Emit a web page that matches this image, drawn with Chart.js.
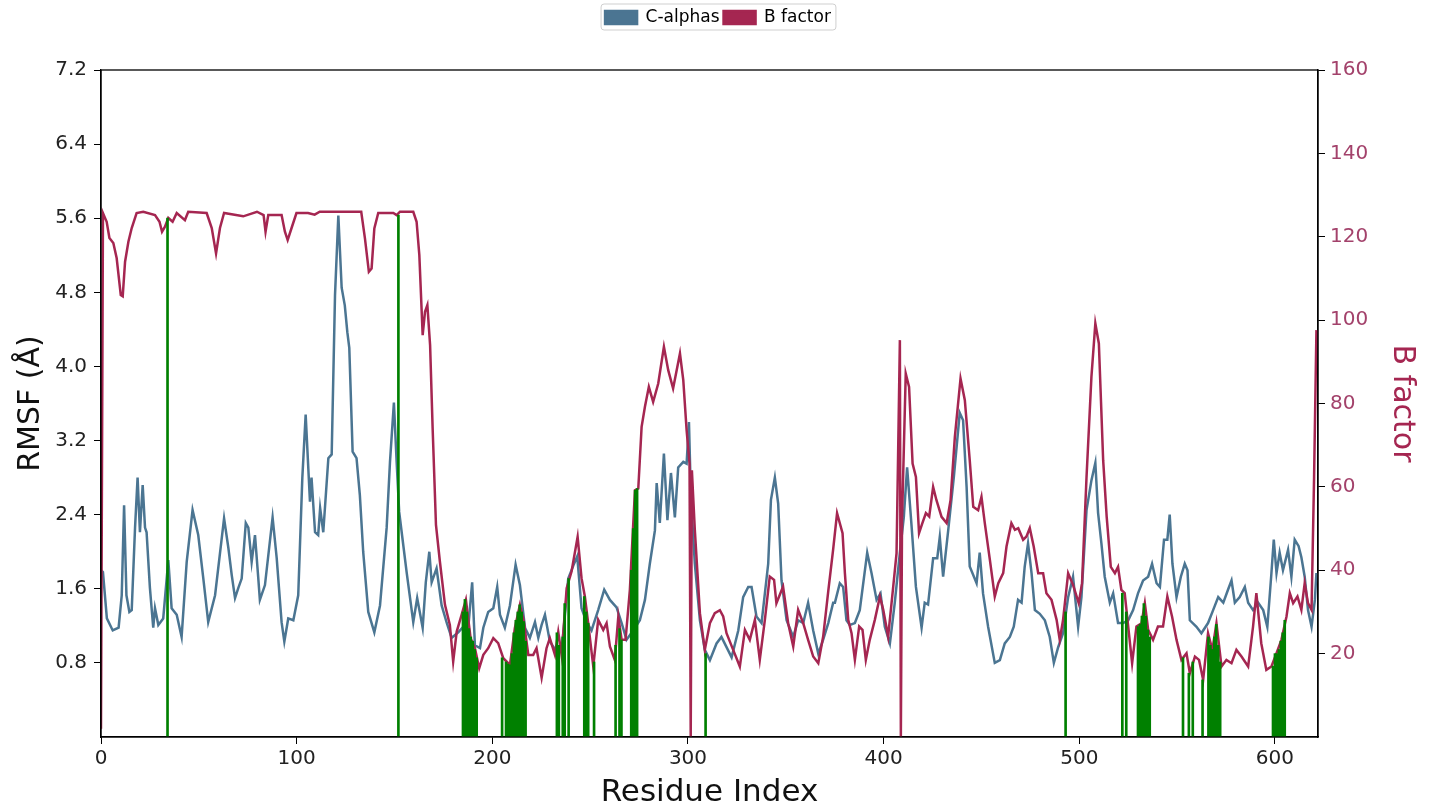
<!DOCTYPE html>
<html>
<head>
<meta charset="utf-8">
<title>RMSF vs B factor</title>
<script src="https://cdn.jsdelivr.net/npm/chart.js@4.4.1/dist/chart.umd.min.js"></script>
<style>
    html, body { margin: 0; padding: 0; background: #fff; }
    #wrap { width: 1436px; height: 812px; position: relative; }
</style>
</head>
<body>
<div id="wrap"><canvas id="rmsfChart"></canvas></div>
<script>
// C-alpha RMSF per residue: [residue, RMSF in Angstrom]
const cAlphaPoints = [
    [0,1.80],[1,1.78],[3,1.28],[6,1.15],[9,1.18],[10.6,1.53],[11.8,2.50],[13,1.53],[14.5,1.35],[15.7,1.37],
    [17.4,2.26],[18.7,2.80],[19.9,2.21],[21.3,2.72],[22.5,2.26],[23.3,2.21],[25,1.61],[26.7,1.18],[27.6,1.39],
    [29.3,1.21],[31.8,1.28],[34.4,1.91],[36.1,1.39],[38.7,1.32],[41.2,1.08],[43.8,1.89],[46.8,2.45],[49.7,2.18],
    [52.3,1.71],[54.8,1.24],[58.3,1.53],[62.9,2.36],[65.1,2.04],[66.8,1.75],[68.5,1.50],[70.2,1.61],[71.9,1.71],
    [74,2.31],[75.3,2.26],[77,1.89],[78.7,2.18],[80.4,1.71],[81.2,1.48],[83.8,1.64],[87.7,2.37],[89.8,1.93],
    [92.3,1.24],[93.7,1.03],[95.7,1.28],[98.3,1.26],[100.8,1.53],[102.9,2.80],[104.6,3.48],[106.8,2.54],
    [107.6,2.80],[109.4,2.21],[111,2.18],[112,2.47],[113.6,2.21],[116.2,3.01],[117.9,3.05],[119.6,4.77],
    [121.3,5.63],[123,4.85],[124.6,4.66],[125.9,4.37],[126.9,4.20],[128.6,3.08],[130.6,3.01],[132.3,2.61],
    [134,2.00],[136.6,1.35],[139.7,1.13],[142.6,1.42],[146,2.26],[147.7,2.97],[149.7,3.61],[151.1,2.97],
    [152.4,2.43],[154.5,2.07],[156.2,1.78],[159.6,1.24],[161.6,1.50],[164.4,1.18],[166,1.67],[167.8,2.00],
    [169,1.67],[171.5,1.82],[174.1,1.42],[176.6,1.24],[179.2,1.07],[182.6,1.13],[186,1.21],[187.7,1.18],
    [189.7,1.67],[191.1,0.99],[193.7,0.96],[195.4,1.18],[197.9,1.35],[200.5,1.39],[202.5,1.62],[203.9,1.32],
    [206.4,1.18],[209,1.42],[211.9,1.86],[214.1,1.64],[216.7,1.18],[219.2,1.07],[221.8,1.24],[223.5,1.07],
    [225.2,1.21],[226.9,1.32],[229.4,1.03],[232.9,0.92],[235.4,0.92],[238.8,1.71],[241.4,1.85],[243.4,1.95],
    [245.6,1.39],[248.2,1.24],[250.7,1.15],[254.1,1.37],[257.2,1.59],[260.1,1.48],[263.5,1.40],[266.1,1.23],
    [268.6,1.05],[272,1.15],[275.4,1.26],[278,1.48],[280.5,1.87],[283.1,2.23],[284,2.74],[285.6,2.31],
    [287.7,3.06],[289.5,2.34],[291.3,2.85],[293.3,2.37],[295,2.91],[297.6,2.97],[299.3,2.95],[300.5,3.40],
    [301.5,2.59],[303.5,1.87],[306.1,1.26],[308.6,0.94],[311.2,0.83],[314.6,1.01],[317.1,1.08],[319.7,0.97],
    [322.3,0.86],[325.7,1.15],[328.2,1.51],[330.8,1.62],[332.5,1.62],[335,1.30],[337.6,1.23],[341,1.87],
    [342.4,2.56],[344.4,2.80],[346.1,2.52],[347.8,1.69],[350.4,1.26],[353.8,1.08],[356.3,1.26],[358.9,1.23],
    [361.4,1.45],[364,1.15],[366.6,0.90],[369.1,1.05],[371.7,1.23],[374.2,1.45],[375.1,1.45],[377.6,1.66],
    [379.3,1.62],[381,1.26],[382.7,1.21],[385.3,1.23],[387.8,1.37],[391.6,1.99],[393.8,1.77],[396.4,1.48],
    [398.4,1.55],[400.6,1.19],[403.2,1.01],[405.7,1.45],[408.3,1.99],[410.3,2.37],[412,2.91],[414.3,2.27],
    [416.5,1.62],[419.4,1.18],[421,1.45],[422.7,1.43],[425.3,1.93],[427.4,1.93],[428.7,2.16],[430.4,1.73],
    [433,2.23],[435.9,2.81],[438.9,3.50],[440.6,3.42],[442.4,2.70],[444,1.84],[447.5,1.66],[449.1,1.99],
    [450.8,1.55],[453.4,1.19],[456.8,0.80],[459.4,0.83],[461.9,1.01],[464.5,1.08],[466.5,1.19],[468.7,1.48],
    [470.5,1.45],[472.1,1.84],[473.8,2.09],[475.6,1.77],[477.3,1.37],[479.8,1.33],[482.4,1.26],[484.9,1.08],
    [487,0.80],[489.2,0.97],[491.7,1.12],[494.3,1.51],[496.8,1.73],[499.4,1.19],[501.1,1.51],[503.7,2.45],
    [506.2,2.77],[508.2,2.96],[509.6,2.42],[511.3,2.09],[513,1.73],[515.6,1.45],[517.3,1.55],[519.8,1.23],
    [522.4,1.23],[525,1.26],[527.5,1.37],[530,1.55],[532.6,1.69],[535.2,1.73],[537.2,1.87],[539.5,1.66],
    [541.2,1.62],[543.3,2.13],[545,2.13],[546.2,2.40],[547.6,1.87],[549.7,1.51],[551.9,1.73],[553.9,1.87],
    [555.3,1.80],[556.5,1.26],[559.9,1.19],[562.4,1.12],[565.8,1.23],[568.4,1.37],[571,1.51],[573.6,1.45],
    [576,1.59],[577.8,1.69],[579.5,1.45],[582,1.51],[584.6,1.62],[586.3,1.45],[588.8,1.37],[591.4,1.45],
    [594,1.37],[596.1,1.19],[598.2,1.77],[599.4,2.13],[600.8,1.77],[602.4,1.99],[604.1,1.80],[606.7,2.02],
    [608.4,1.73],[610.1,2.13],[612.1,2.06],[613.5,1.94],[615.2,1.73],[616.9,1.37],[618.7,1.19],[620.4,1.48],
    [621.2,1.77]
];

// B factor per residue: [residue, B factor]
const bFactorPoints = [
    [0,2],[1,125.7],[2.9,123.6],[4.3,119.7],[6.3,118.5],[8,114.9],[10.1,106],[11.1,105.7],[12.3,114],
    [14,118.8],[15.7,122.1],[18.2,125.7],[21.6,126],[27.6,125.2],[29.9,123.6],[31.2,121.2],[32.7,122.4],
    [34.4,124.5],[36.6,123.6],[38.7,125.7],[42.9,124],[44.6,126],[54,125.7],[56.6,122.1],[58.8,116],
    [60.8,122.1],[62.9,125.7],[72.7,124.9],[79.7,126],[83.1,125.2],[84.1,121.2],[85.5,125.2],[92.3,125.2],
    [94,121.2],[95.4,119.2],[97.4,122.1],[99.9,125.7],[105.8,125.7],[109.2,125.3],[111.8,126],[133,126],
    [134.9,119.6],[136.9,111.6],[138.3,112.4],[139.7,122],[141.7,125.7],[149.4,125.7],[151.1,125.2],
    [152.8,126],[159.6,126],[161.3,123.6],[162.7,115.6],[164.4,96.4],[165.6,102],[166.8,103.6],[168.2,94],
    [169.5,74],[171.2,50.9],[173.2,42.1],[175.8,31.7],[178.3,26.9],[180,18.1],[181.8,25.3],[184.3,29.3],
    [186.5,32.9],[188.9,23.7],[191.1,21.3],[193.3,16.5],[195.4,19.7],[197.9,21.3],[200.5,23.7],[203,22.5],
    [205.6,18.9],[209,17.3],[211.5,26.1],[214.1,31.7],[216.1,27.7],[218.4,19.7],[220.9,19.7],[222.6,21.3],
    [225.2,14.2],[227.7,21.3],[229.4,23.7],[232,19.7],[233.7,25.2],[235.4,19.7],[238,35.7],[240.5,39.7],
    [243.6,48],[245.6,38.1],[247.3,33.7],[249,27.3],[251.6,16.9],[254.1,28.1],[256.7,25.7],[258.4,27.3],
    [260.1,21.7],[262.6,18.5],[264.4,28.9],[266.1,23.3],[268.1,23.3],[270.3,35.3],[272.9,59.2],[274.6,59.6],
    [276.3,74.4],[278,79.2],[280,84],[282.2,80.4],[284.8,84.8],[287.7,93.6],[289.9,88],[292.4,83.6],
    [295.9,92],[297.6,85.6],[299.3,73.6],[300.8,65.6],[301.4,0],[302,64],[303.5,49.7],[306.1,29.7],
    [308.6,20.9],[311.2,27.3],[313.7,29.7],[316.3,30.4],[318,28.9],[319.7,24.9],[323.1,20.9],[326.5,16.9],
    [329.1,25.7],[331.6,23.3],[334.2,28.1],[336.7,18.5],[339.3,28.1],[341.8,38.5],[344,37.7],[345.2,32.1],
    [348.6,36.1],[351.2,27.3],[353.8,21.7],[356.3,30.5],[358.9,27.3],[361.4,23.3],[364,19.3],[366.6,17.7],
    [369.1,24.1],[371.7,35],[374.2,45],[376.2,53.7],[379,48.9],[380.2,39.3],[381.9,28.1],[383.6,24.9],
    [385.3,18.5],[387.5,26.5],[389.2,25.7],[390.9,18.5],[392.9,23.3],[395.5,28.1],[398.1,33.7],[399.8,30.5],
    [402.3,24.1],[404.9,36.1],[406.6,44.1],[407.4,68],[408.3,95.2],[408.8,0],[409.4,52],[411.3,87.2],
    [413,84],[414.8,65.6],[416.5,62.4],[418.1,48.9],[419.8,51.3],[421.6,53.7],[423.3,52.9],[425.3,60],
    [427,56.8],[429.6,52.8],[432.2,51.3],[434.2,56.8],[436.4,72],[439.3,86],[441.5,80.8],[444,66.4],
    [445.8,55.2],[448.3,54.4],[450,57.6],[451.7,51.3],[454.3,42.5],[456.8,33.7],[458.6,36.9],[461.1,39.3],
    [462.8,45.7],[465.3,51.3],[467.1,49.7],[468.8,50.1],[471.3,47.3],[473,48.1],[474.7,50.1],[476.7,45.7],
    [479,39.3],[481.5,39.3],[483.2,34.5],[485.8,32.9],[488.4,28.1],[490,23.3],[491.7,28.1],[494.3,39.3],
    [496.8,36.5],[499.7,32.1],[501.4,36.9],[503.7,62.4],[506.2,86.4],[508.2,99.2],[510,94.4],[512.2,66.4],
    [514,52.8],[516.1,40.8],[518.2,39.3],[519.8,40.8],[521.5,35.3],[523.2,34.5],[525,26.5],[527,17.7],
    [529.2,26.5],[531.8,27.3],[533.5,32.1],[535.2,25.7],[537.7,23.3],[540.2,26.5],[542.8,26.5],[545,33.7],
    [547.4,28.9],[549.7,23.3],[552.2,18.5],[554.8,20.1],[556.5,15.3],[559.1,19.3],[561.2,18.5],[563.3,13.7],
    [565.8,24.9],[568,20.9],[570.1,27.3],[572.7,16.9],[575.2,18.5],[577.8,17.7],[580.3,20.9],[582.9,19.3],
    [586.3,16.9],[588.8,26.5],[590.5,34.5],[593,22.5],[595.6,16.1],[598.2,16.9],[600.8,20.1],[603.3,23.3],
    [605.9,28.9],[607.6,34.5],[609.3,32.1],[611.5,33.7],[613.5,30.5],[615.2,36.9],[616.9,32.1],[618.7,30.5],
    [620,62.4],[621.2,97.6]
];

// contact residues (green lines) and the B factor they reach
const contactResidues = [
    34, 152,
    185, 186, 187, 188, 189, 190, 191, 192,
    205, 207, 208, 209, 210, 211, 212, 213, 214, 215, 216, 217,
    233, 234, 236, 237, 239,
    247, 248, 249, 252,
    263, 265, 266,
    271, 272, 273, 274,
    309, 493,
    522, 524,
    530, 531, 532, 533, 534, 535, 536,
    553, 556, 558, 563,
    566, 567, 568, 569, 570, 571, 572,
    599, 600, 601, 602, 603, 604, 605
];
const contactBfactor = [
    124.5, 125.2,
    30, 33, 30, 26, 24, 23, 21, 19,
    19, 18, 17.5, 17.3, 20, 25, 28, 30, 31.7, 30, 27.7, 23,
    25, 22, 24, 32, 38,
    33.7, 30, 27.3, 18,
    22, 26, 23.3,
    40, 50, 59.2, 59.6,
    20, 30,
    34.5, 30,
    26.5, 27, 29, 32, 29, 25.7, 24,
    19, 15.3, 18, 13.7,
    24, 22, 21, 24, 27, 22, 18,
    17, 20, 20, 21, 23, 25, 28
];

// axis ticks
const residueTicks = [0, 100, 200, 300, 400, 500, 600];
const rmsfTicks = [0.8, 1.6, 2.4, 3.2, 4.0, 4.8, 5.6, 6.4, 7.2];
const bFactorTicks = [20, 40, 60, 80, 100, 120, 140, 160];

const CA_COLOR = '#4b7592';
const B_COLOR = '#a52651';
const B_TICK_COLOR = '#a3426b';
const CONTACT_COLOR = '#008000';

Chart.defaults.font.family = "'DejaVu Sans', sans-serif";
Chart.defaults.color = '#222';

// box around the plot area and a thin frame around the legend
const frameAndLegendBox = {
    id: 'frameAndLegendBox',
    afterDraw(chart) {
        const { ctx, chartArea: a, legend } = chart;
        ctx.save();
        ctx.strokeStyle = '#000';
        ctx.lineWidth = 1.3;
        ctx.strokeRect(a.left, a.top, a.right - a.left, a.bottom - a.top);
        if (legend && legend.legendHitBoxes && legend.legendHitBoxes.length) {
            const boxes = legend.legendHitBoxes;
            const last = boxes[boxes.length - 1];
            const x0 = boxes[0].left - 4;
            const x1 = last.left + last.width + 5;
            const y0 = boxes[0].top - 5;
            const y1 = boxes[0].top + boxes[0].height + 4;
            ctx.strokeStyle = '#cfcfcf';
            ctx.lineWidth = 1;
            ctx.beginPath();
            ctx.roundRect(x0, y0, x1 - x0, y1 - y0, 3);
            ctx.stroke();
        }
        ctx.restore();
    }
};

function toXY(points) {
    return points.map(([x, y]) => ({ x, y }));
}

const ctx = document.getElementById('rmsfChart').getContext('2d');
new Chart(ctx, {
    type: 'line',
    data: {
        datasets: [
            {
                label: 'C-alphas',
                data: toXY(cAlphaPoints),
                borderColor: CA_COLOR,
                backgroundColor: CA_COLOR,
                borderWidth: 2.5,
                pointRadius: 0,
                tension: 0,
                yAxisID: 'y',
                order: 2
            },
            {
                label: 'B factor',
                data: toXY(bFactorPoints),
                borderColor: B_COLOR,
                backgroundColor: B_COLOR,
                borderWidth: 2.5,
                pointRadius: 0,
                tension: 0,
                yAxisID: 'yB',
                order: 1
            },
            {
                type: 'bar',
                label: 'contacts',
                data: contactResidues.map((r, i) => ({ x: r, y: contactBfactor[i] })),
                backgroundColor: CONTACT_COLOR,
                barThickness: 2,
                grouped: false,
                yAxisID: 'yB',
                order: 0
            }
        ]
    },
    options: {
        responsive: true,
        maintainAspectRatio: false,
        animation: false,
        layout: { padding: { top: 5, left: 0, right: 0, bottom: 0 } },
        plugins: {
            legend: {
                position: 'top',
                labels: {
                    boxWidth: 32,
                    boxHeight: 13,
                    padding: 4,
                    color: '#000',
                    font: { size: 17 },
                    filter: item => item.text !== 'contacts',
                    sort: (a, b) => a.datasetIndex - b.datasetIndex
                }
            },
            // empty spacer between the legend and the plot
            subtitle: {
                display: true,
                text: '',
                position: 'top',
                weight: 500,
                font: { size: 10 },
                padding: { top: 0, bottom: 22 }
            },
            tooltip: { enabled: false }
        },
        scales: {
            x: {
                type: 'linear',
                min: 0,
                max: 622,
                offset: false,
                afterBuildTicks: axis => { axis.ticks = residueTicks.map(v => ({ value: v })); },
                afterFit: axis => { axis.height = 75; },
                grid: { offset: false, drawOnChartArea: false, drawTicks: true, tickLength: 7, tickColor: '#000' },
                border: { color: '#000', width: 1.3 },
                ticks: { color: '#222', font: { size: 20 }, padding: 3, maxRotation: 0 },
                title: { display: true, text: 'Residue Index', color: '#111', font: { size: 31 }, padding: { top: 0, bottom: 0 } }
            },
            y: {
                type: 'linear',
                position: 'left',
                min: 0,
                max: 7.2,
                afterBuildTicks: axis => { axis.ticks = rmsfTicks.map(v => ({ value: v })); },
                afterFit: axis => { axis.width = 101; },
                grid: { drawOnChartArea: false, drawTicks: true, tickLength: 7, tickColor: '#000' },
                border: { color: '#000', width: 1.3 },
                ticks: { color: '#222', font: { size: 20 }, padding: 7, callback: v => v.toFixed(1) },
                title: { display: true, text: 'RMSF (Å)', color: '#111', font: { size: 30 }, padding: { top: 13, bottom: 0 } }
            },
            yB: {
                type: 'linear',
                position: 'right',
                min: 0,
                max: 160,
                afterBuildTicks: axis => { axis.ticks = bFactorTicks.map(v => ({ value: v })); },
                afterFit: axis => { axis.width = 118; },
                grid: { drawOnChartArea: false, drawTicks: true, tickLength: 7, tickColor: '#000' },
                border: { color: '#000', width: 1.3 },
                ticks: { color: B_TICK_COLOR, font: { size: 20 }, padding: 5 },
                title: { display: true, text: 'B factor', color: B_COLOR, font: { size: 30 }, padding: { top: 16, bottom: 0 } }
            }
        }
    },
    plugins: [frameAndLegendBox]
});
</script>
</body>
</html>
